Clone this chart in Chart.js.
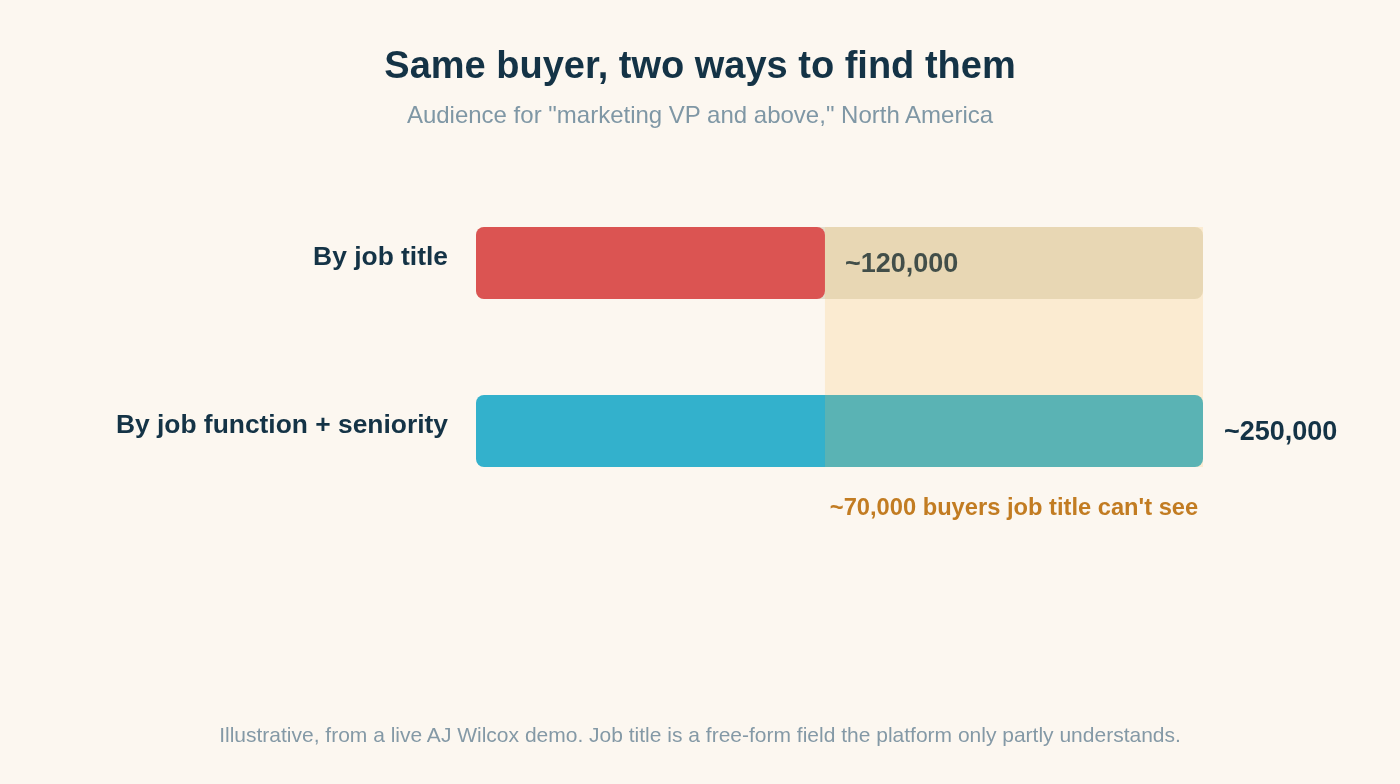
<!DOCTYPE html>
<html>
<head>
<meta charset="utf-8">
<script src="https://cdn.jsdelivr.net/npm/chart.js@4"></script>
<style>
  html, body { margin: 0; padding: 0; background: #FCF7F0; }
  #page { position: relative; width: 1400px; height: 784px; font-family: "Liberation Sans", Arial, sans-serif; }
  .txt { position: absolute; left: 0; width: 1400px; text-align: center; white-space: nowrap; }
  #title { top: 46px; font-size: 38px; line-height: 38px; font-weight: bold; color: #143346; }
  #subtitle { top: 103px; font-size: 24px; line-height: 24px; color: #7F97A5; }
  #footer { top: 724px; font-size: 21px; line-height: 21px; color: #8499A6; }
  #wrap { position: absolute; left: 0; top: 0; width: 1400px; height: 784px; }
</style>
</head>
<body>
<div id="page">
  <div id="wrap"><canvas id="chartBar"></canvas></div>
  <div class="txt" id="title">Same buyer, two ways to find them</div>
  <div class="txt" id="subtitle">Audience for "marketing VP and above," North America</div>
  <div class="txt" id="footer">Illustrative, from a live AJ Wilcox demo. Job title is a free-form field the platform only partly understands.</div>
</div>
<script>
// data
var categories = ['By job title', 'By job function + seniority'];
var audience = [120000, 250000];
var fullReach = [250000, null];
var valueLabels = ['~120,000', '~250,000'];
var gapFrom = 120000;
var gapTo = 250000;
var gapLabel = "~70,000 buyers job title can't see";

var navy = '#143346';
var fontFamily = '"Liberation Sans", Arial, sans-serif';

// labels then the gap band, so the band tints the first label like the original
var gapPlugin = {
    id: 'gapPlugin',
    afterDatasetsDraw: function(chart) {
        var ctx = chart.ctx;
        var x = chart.scales.x;
        var meta = chart.getDatasetMeta(1);
        var top = meta.data[0].y - meta.data[0].height / 2;
        var bottom = meta.data[1].y + meta.data[1].height / 2;

        ctx.save();
        ctx.font = 'bold 27px ' + fontFamily;
        ctx.fillStyle = navy;
        ctx.textBaseline = 'middle';
        ctx.textAlign = 'left';
        for (var i = 0; i < audience.length; i++) {
            var bar = meta.data[i];
            var lx = (i === 0) ? bar.x + 20 : x.getPixelForValue(gapTo) + 21;
            ctx.fillText(valueLabels[i], lx, bar.y + 2);
        }

        var x0 = x.getPixelForValue(gapFrom);
        var x1 = x.getPixelForValue(gapTo);
        ctx.fillStyle = 'rgba(250, 191, 87, 0.2)';
        ctx.fillRect(x0, top, x1 - x0, bottom - top);

        ctx.font = 'bold 23.7px ' + fontFamily;
        ctx.fillStyle = '#C27C22';
        ctx.textAlign = 'center';
        ctx.fillText(gapLabel, (x0 + x1) / 2, bottom + 41);
        ctx.restore();
    }
};

var chart = new Chart(document.getElementById('chartBar'), {
    type: 'bar',
    data: {
        labels: categories,
        datasets: [
            {
                label: 'Full reach',
                data: fullReach,
                backgroundColor: '#E4DECC',
                borderRadius: 8,
                borderSkipped: false,
                order: 2
            },
            {
                label: 'Audience',
                data: audience,
                backgroundColor: ['#DB5452', '#33B1CC'],
                borderRadius: 8,
                borderSkipped: false,
                order: 1
            }
        ]
    },
    options: {
        indexAxis: 'y',
        responsive: true,
        maintainAspectRatio: false,
        animation: false,
        events: [],
        datasets: {
            bar: { grouped: false, categoryPercentage: 1, barPercentage: 72 / 168 }
        },
        layout: { padding: { left: 0, right: 197, top: 179, bottom: 269 } },
        plugins: { legend: { display: false }, tooltip: { enabled: false } },
        scales: {
            x: { display: false, min: 0, max: 250000 },
            y: {
                grid: { display: false, drawTicks: false },
                border: { display: false },
                ticks: {
                    color: navy,
                    padding: 28,
                    labelOffset: -5,
                    font: { family: fontFamily, size: 26.4, weight: 'bold' }
                },
                afterFit: function(scale) { scale.width = 476; }
            }
        }
    },
    plugins: [gapPlugin]
});
</script>
</body>
</html>
